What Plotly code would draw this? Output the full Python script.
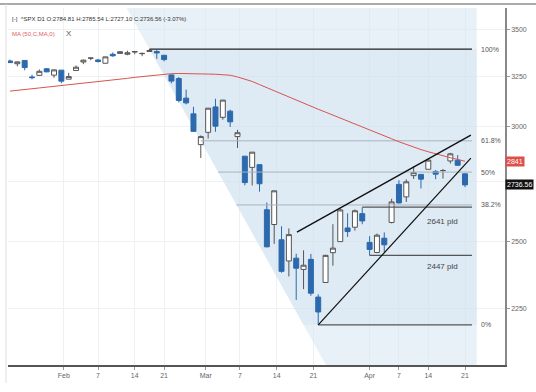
import numpy as np
import plotly.graph_objects as go
from datetime import date

# ---------------- data ----------------
dates = ["2020-01-22","2020-01-23","2020-01-24","2020-01-27","2020-01-28","2020-01-29","2020-01-30","2020-01-31",
         "2020-02-03","2020-02-04","2020-02-05","2020-02-06","2020-02-07","2020-02-10","2020-02-11","2020-02-12",
         "2020-02-13","2020-02-14","2020-02-18","2020-02-19","2020-02-20","2020-02-21","2020-02-24","2020-02-25",
         "2020-02-26","2020-02-27","2020-02-28","2020-03-02","2020-03-03","2020-03-04","2020-03-05","2020-03-06",
         "2020-03-09","2020-03-10","2020-03-11","2020-03-12","2020-03-13","2020-03-16","2020-03-17","2020-03-18",
         "2020-03-19","2020-03-20","2020-03-23","2020-03-24","2020-03-25","2020-03-26","2020-03-27","2020-03-30",
         "2020-03-31","2020-04-01","2020-04-02","2020-04-03","2020-04-06","2020-04-07","2020-04-08","2020-04-09",
         "2020-04-13","2020-04-14","2020-04-15","2020-04-16","2020-04-17","2020-04-20","2020-04-21"]
opens = [3330.02,3315.77,3333.10,3247.16,3255.35,3289.46,3256.45,3282.33,
         3235.66,3280.61,3324.91,3344.92,3335.54,3318.28,3365.87,3370.50,
         3365.90,3378.08,3369.04,3380.39,3380.45,3360.50,3257.61,3238.94,
         3139.90,3062.54,2916.90,2974.28,3096.46,3045.75,3075.70,2954.20,
         2863.89,2813.48,2825.60,2630.86,2569.99,2508.59,2425.66,2436.50,
         2393.48,2431.94,2290.71,2344.44,2457.77,2501.29,2555.87,2558.98,
         2614.69,2498.08,2458.54,2514.92,2578.28,2738.65,2685.00,2776.99,
         2782.46,2805.10,2795.64,2799.34,2842.43,2845.62,2784.81]
highs = [3337.77,3326.88,3333.18,3258.85,3285.78,3293.47,3285.91,3282.33,
         3268.44,3306.92,3337.58,3347.96,3341.42,3352.26,3375.63,3381.47,
         3385.09,3380.69,3375.01,3393.52,3389.15,3360.76,3259.81,3246.99,
         3182.51,3097.07,2959.72,3090.96,3136.72,3130.97,3083.04,2985.93,
         2863.89,2882.59,2825.60,2660.95,2711.33,2562.98,2553.93,2453.57,
         2466.97,2453.01,2300.73,2449.71,2571.42,2637.01,2615.91,2631.80,
         2641.39,2522.75,2533.22,2538.18,2676.85,2756.89,2760.75,2818.57,
         2782.46,2851.85,2801.88,2806.51,2879.22,2868.98,2785.54]
lows = [3320.04,3301.87,3281.53,3234.50,3253.22,3271.89,3242.80,3214.68,
        3235.66,3280.61,3313.75,3334.39,3322.12,3317.77,3352.72,3369.72,
        3360.52,3366.15,3355.61,3378.83,3341.02,3328.45,3214.65,3118.77,
        3108.99,2977.39,2855.84,2945.19,2976.63,3034.38,2999.83,2901.54,
        2734.43,2734.00,2707.22,2478.86,2492.37,2380.94,2367.04,2280.52,
        2319.78,2295.56,2191.86,2344.44,2407.53,2500.72,2520.02,2545.28,
        2571.15,2447.49,2455.79,2459.96,2574.57,2657.67,2663.30,2762.36,
        2721.17,2805.10,2761.54,2764.32,2830.88,2820.43,2727.10]
closes = [3321.75,3325.54,3295.47,3243.63,3276.24,3273.40,3283.66,3225.52,
          3248.92,3297.59,3334.69,3345.78,3327.71,3352.09,3357.75,3379.45,
          3373.94,3380.16,3370.29,3386.15,3373.23,3337.75,3225.89,3128.21,
          3116.39,2978.76,2954.22,3090.23,3003.37,3130.12,3023.94,2972.37,
          2746.56,2882.23,2741.38,2480.64,2711.02,2386.13,2529.19,2398.10,
          2409.39,2304.92,2237.40,2447.33,2475.56,2630.07,2541.47,2626.65,
          2584.59,2470.50,2526.90,2488.65,2663.68,2659.41,2749.98,2789.82,
          2761.63,2846.06,2783.36,2799.55,2874.56,2823.16,2736.56]
ma50 = [3175,3180,3184,3187,3191,3195,3199,3201,
        3204,3208,3213,3218,3222,3226,3231,3236,
        3240,3245,3249,3253,3257,3262,3264,3265,
        3265,3264,3263,3262,3261,3259,3256,3247,
        3236,3224,3208,3192,3178,3162,3146,3130,
        3115,3100,3085,3071,3057,3043,3029,3015,
        3001,2987,2973,2958,2944,2930,2917,2905,
        2894,2884,2874,2865,2857,2849,2841]

tick_dates = ["2020-02-01","2020-02-07","2020-02-14","2020-02-21","2020-03-01","2020-03-07",
              "2020-03-14","2020-03-21","2020-04-01","2020-04-07","2020-04-14","2020-04-21"]
tick_text = ["Feb","7","14","21","Mar","7","14","21","Apr","7","14","21"]
y_ticks = [2250, 2500, 2750, 3000, 3250, 3500]
y_tick_text = ["2250", "2500", "", "3000", "3250", "3500"]  # 2750 hidden under price tag

fib_high = 3393.52
fib_low = 2191.86
fib_start = "2020-02-19"
fib_end = "2020-03-19"
fib_levels = [1.0, 0.618, 0.5, 0.382, 0.0]
fib_labels = ["100%", "61.8%", "50%", "38.2%", "0%"]

pld_levels = [2641.39, 2447.49]
pld_start = ["2020-03-31", "2020-04-01"]
pld_labels = ["2641 pld", "2447 pld"]

upper_trend_px = [2539, 2961]
lower_trend_px = [2191.86, 2855]
ma_last = 2841
last_close = 2736.56

# ---------------- helpers ----------------
x = list(range(len(dates)))
ords = [date.fromisoformat(d).toordinal() for d in dates]
def pos(d):
    return float(np.interp(date.fromisoformat(d).toordinal(), ords, x))
tick_vals = [pos(d) for d in tick_dates]

pxday = 455 / 62.0
x_range = [-2 / pxday, 62 + 40 / pxday]
y_lo, y_hi = 2057.0, 3622.0
y_range = [np.log10(y_lo), np.log10(y_hi)]
line_end = 62.95
shade_end = 63.6
label_x = 63.9
FONT = "Liberation Sans, Arial"
OV = dict(xaxis="x2", yaxis="y2", hoverinfo="skip", showlegend=False)

fig = go.Figure()

# fib shading on the base axes (below everything drawn on the overlay axes)
xa, xb = pos(fib_start), pos(fib_end)
la, lb = np.log10(fib_high), np.log10(fib_low)
def diag_x(p):
    return xa + (np.log10(p) - la) / (lb - la) * (xb - xa)
fig.add_trace(go.Scatter(
    x=[diag_x(y_hi), shade_end, shade_end, diag_x(y_lo), diag_x(y_hi)],
    y=[y_hi, y_hi, y_lo, y_lo, y_hi], mode="lines", fill="toself",
    fillcolor="rgba(215,229,243,0.55)", line=dict(width=0), hoverinfo="skip", showlegend=False))
fig.add_trace(go.Scatter(
    x=[diag_x(fib_high), shade_end, shade_end, diag_x(fib_low), diag_x(fib_high)],
    y=[fib_high, fib_high, fib_low, fib_low, fib_high], mode="lines", fill="toself",
    fillcolor="rgba(200,217,234,0.3)", line=dict(width=0), hoverinfo="skip", showlegend=False))

# candles (overlay axes so they sit above the shading)
fig.add_trace(go.Candlestick(
    x=x, open=opens, high=highs, low=lows, close=closes,
    increasing=dict(fillcolor="white", line=dict(color="#555", width=1)),
    decreasing=dict(fillcolor="#2c69ad", line=dict(color="#2c69ad", width=1)),
    whiskerwidth=0, **OV))

# fib level lines
for lvl, lab in zip(fib_levels, fib_labels):
    p = fib_low + lvl * (fib_high - fib_low)
    if lvl == 1.0:
        x0, col, w = pos(fib_start), "#222", 1.3
    elif lvl == 0.0:
        x0, col, w = pos("2020-03-23"), "#555", 1.3
    else:
        x0, col, w = diag_x(p), "#a9b3bd", 1.0
    fig.add_trace(go.Scatter(x=[x0, line_end], y=[p, p], mode="lines",
                             line=dict(color=col, width=w), **OV))
    fig.add_annotation(x=label_x, y=np.log10(p), text=lab, showarrow=False, xanchor="left",
                       font=dict(size=7, color="#555", family=FONT))

# pld lines
for p, d in zip(pld_levels, pld_start):
    fig.add_trace(go.Scatter(x=[pos(d), line_end], y=[p, p], mode="lines",
                             line=dict(color="#555", width=1.3), **OV))
fig.add_annotation(x=59, y=np.log10(2584), text=pld_labels[0], showarrow=False,
                   font=dict(size=8, color="#444", family=FONT))
fig.add_annotation(x=59, y=np.log10(2406), text=pld_labels[1], showarrow=False,
                   font=dict(size=8, color="#444", family=FONT))

# moving average
fig.add_trace(go.Scatter(x=x, y=ma50, mode="lines", line=dict(color="#d9544f", width=1), **OV))

# trend lines
fig.add_trace(go.Scatter(x=[39.1, 62.8], y=upper_trend_px, mode="lines",
                         line=dict(color="#111", width=1.4), **OV))
fig.add_trace(go.Scatter(x=[pos("2020-03-23"), 62.8], y=lower_trend_px, mode="lines",
                         line=dict(color="#111", width=1.2), **OV))

# price labels on right
fig.add_annotation(xref="paper", x=1.0, y=np.log10(ma_last), text=f"{ma_last}", showarrow=False,
                   xanchor="left", bgcolor="#e0504a", borderpad=1,
                   font=dict(size=7, color="white", family=FONT))
fig.add_annotation(xref="paper", x=1.0, y=np.log10(last_close), text=f"{last_close:.2f}", showarrow=False,
                   xanchor="left", bgcolor="#111", borderpad=1,
                   font=dict(size=7, color="white", family=FONT))

# header
fig.add_annotation(xref="paper", yref="paper", x=0.004, y=0.968, xanchor="left", yanchor="middle",
                   text="[-]  ^SPX D1 O:2784.81 H:2785.54 L:2727.10 C:2736.56 (-3.07%)",
                   showarrow=False, font=dict(size=6, color="#333", family=FONT))
fig.add_annotation(xref="paper", yref="paper", x=0.004, y=0.928, xanchor="left", yanchor="middle",
                   text="MA (50,C,MA,0)", showarrow=False,
                   font=dict(size=6, color="#e0605a", family=FONT))
fig.add_annotation(xref="paper", yref="paper", x=0.112, y=0.928, xanchor="left", yanchor="middle",
                   text="X", showarrow=False, font=dict(size=8, color="#555", family=FONT))

# frame lines
fig.add_shape(type="line", xref="paper", yref="paper", x0=-0.02, x1=1.08, y0=1.011, y1=1.011,
              line=dict(color="#aaa", width=2))
fig.add_shape(type="line", xref="paper", yref="paper", x0=-0.004, x1=-0.004, y0=1.011, y1=-0.05,
              line=dict(color="#ddd", width=1))

fig.update_layout(
    width=536, height=392, margin=dict(l=8, r=31, t=8, b=27),
    paper_bgcolor="white", plot_bgcolor="white", boxgap=0.25, boxgroupgap=0.1,
    xaxis=dict(range=x_range, tickvals=tick_vals, ticktext=tick_text, showgrid=True,
               gridcolor="#eef1f4", gridwidth=1, ticks="outside", ticklen=3, tickcolor="#999",
               showline=True, linecolor="#555", linewidth=1.5, zeroline=False,
               rangeslider=dict(visible=False),
               tickfont=dict(size=7, color="#666", family=FONT)),
    yaxis=dict(type="log", range=y_range, side="right",
               tickvals=y_ticks, ticktext=y_tick_text, showgrid=True,
               gridcolor="#eef1f4", ticks="outside", ticklen=3, tickcolor="#999",
               showline=True, linecolor="#888", linewidth=1.5, zeroline=False,
               tickfont=dict(size=7, color="#666", family=FONT)),
    xaxis2=dict(overlaying="x", range=x_range, visible=False, showgrid=False,
                zeroline=False, rangeslider=dict(visible=False)),
    yaxis2=dict(overlaying="y", type="log", range=y_range, visible=False, showgrid=False,
                zeroline=False),
)

fig.write_html("out.html", config={"displayModeBar": False},
               post_script="document.body.style.margin='0px';document.body.style.overflow='hidden';")
